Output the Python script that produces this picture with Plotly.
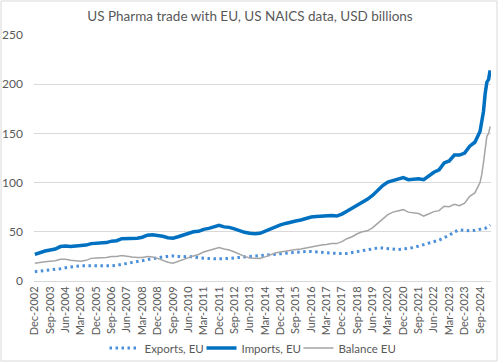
import pandas as pd
import plotly.graph_objects as go

# Category dates: quarterly Dec-2002..Sep-2024, then monthly Oct-2024..Mar-2025
months = list(pd.date_range("2002-12-01", "2024-09-01", freq="3MS")) + \
         list(pd.date_range("2024-10-01", "2025-03-01", freq="MS"))

exports_eu = [
    9.5, 10, 11, 11.5,   12, 12.5, 13.5, 14.5,   15, 15.5, 15.5, 15,
    15, 15, 15, 15.5,    16, 17, 18, 19,         19.5, 20.5, 21.5, 22.5,
    23.5, 24.5, 25, 25.5, 25, 25, 25, 24.5,      23.5, 23, 22.5, 22.5,
    22.5, 22.5, 23, 23.5, 24, 24.5, 25, 25,      25.5, 26, 26.5, 27,
    27.5, 28, 28.5, 29,  29.5, 30, 30, 29.5,     29.5, 29, 28.5, 28,
    28, 28, 29, 30,      31, 32, 33, 33.5,       33.5, 33, 32, 32,
    32.5, 33, 34, 35.5,  37, 39, 40, 41.5,       44, 46.5, 50, 52,
    51.5, 51, 51.5, 52.5,
    52.5, 53, 53.5, 54.5, 55.5, 57,
]

imports_eu = [
    27, 29, 30.5, 31.5,  32.5, 35, 35.5, 35,     35.5, 35.5, 36.5, 38,
    38.5, 38.5, 39, 40.5, 41, 43, 43, 43.5,      43.5, 44.5, 46.5, 47,
    46.5, 45.5, 44, 43.5, 45, 46.5, 48.5, 50,    50.5, 52.5, 53.5, 55,
    56.5, 55, 54.5, 53,  51, 49.5, 48.5, 48,     48.5, 50.5, 53, 55.5,
    57, 58.5, 60, 61,    62, 63.5, 65, 65.5,     66, 66, 66.5, 66,
    68, 71, 74, 78,      81, 83, 87, 92,         97, 100.5, 102, 103.5,
    105, 103, 103.5, 104, 103, 107, 110.5, 113,  120, 122, 128, 128,
    130, 137, 141, 152,
    160, 172, 190, 202, 205, 214,
]

balance_eu = [
    18, 19, 19.5, 20,    20.5, 22, 22, 21,       20.5, 20, 21, 23,
    23.5, 23.5, 24, 25,  25, 26, 25, 24.5,       24, 24, 25, 24.5,
    23, 21, 19, 18,      20, 21.5, 23.5, 25.5,   27, 29.5, 31, 32.5,
    34, 32.5, 31.5, 29.5, 27, 25, 23.5, 23,      23, 24.5, 26.5, 28.5,
    29.5, 30.5, 31.5, 32, 32.5, 33.5, 35, 35.5,  36.5, 37, 38, 38,
    40, 43, 45, 48,      50, 51, 54, 58.5,       63.5, 67.5, 70, 71.5,
    72.5, 70, 69.5, 68.5, 66, 68, 70.5, 71.5,    76, 75.5, 78, 76.5,
    79, 86, 89.5, 100,
    108, 120, 137, 147, 150, 157,
]

title_text = "US Pharma trade with EU, US NAICS data, USD billions"
FONT = "Lato"
GREY_TXT = "#595959"

fig = go.Figure()
fig.add_trace(go.Scatter(x=months, y=exports_eu, name="Exports, EU", mode="lines",
                         line=dict(color="#4A8FDB", width=3, dash="2.5px,3.5px")))
fig.add_trace(go.Scatter(x=months, y=imports_eu, name="Imports, EU", mode="lines",
                         line=dict(color="#0070C0", width=3.5)))
fig.add_trace(go.Scatter(x=months, y=balance_eu, name="Balance EU", mode="lines",
                         line=dict(color="#A5A5A5", width=1.5)))

L, R, T, B = 34, 9, 35, 82
W, H = 500, 363
pw, ph = W - L - R, H - T - B

fig.add_shape(type="rect", xref="paper", yref="paper",
              x0=(1 - L) / pw, x1=(W - 3 - L) / pw,
              y0=-(H - 2 - (H - B)) / ph, y1=(H - B - 1) / ph,
              line=dict(color="#D9D9D9", width=1), fillcolor="rgba(0,0,0,0)", layer="below")

fig.update_layout(
    width=W, height=H,
    margin=dict(l=L, r=R, t=T, b=B, autoexpand=False),
    paper_bgcolor="white", plot_bgcolor="white",
    font=dict(family=FONT, color=GREY_TXT, size=11),
    title=dict(text=title_text, x=0.5, xanchor="center", y=1 - 16 / H, yanchor="middle",
               font=dict(family=FONT, size=13.5, color=GREY_TXT)),
    showlegend=True,
    legend=dict(orientation="h", x=(250 - L) / pw, xanchor="center",
                y=-(348 - (H - B)) / ph, yanchor="middle",
                font=dict(family=FONT, size=11.5, color=GREY_TXT), itemwidth=30,
                entrywidth=52, entrywidthmode="pixels",
                bgcolor="rgba(0,0,0,0)"),
    xaxis=dict(type="date", range=["2002-11-16", "2025-03-16"], automargin=False,
               tick0="2002-12-01", dtick="M9", tickformat="%b-%Y", tickangle=-90,
               showgrid=False, showline=True, linecolor="#D9D9D9", linewidth=1,
               ticks="", tickfont=dict(family=FONT, size=11, color=GREY_TXT),
               zeroline=False),
    yaxis=dict(range=[0, 250], dtick=50, showgrid=True, gridcolor="#D9D9D9", gridwidth=1,
               zeroline=False, showline=False, ticks="", automargin=False,
               ticklabelstandoff=10,
               tickfont=dict(family=FONT, size=12, color=GREY_TXT)),
)

fig.write_html("out.html", config={"displayModeBar": False},
               post_script="document.body.style.margin='0';document.body.style.overflow='hidden';")
